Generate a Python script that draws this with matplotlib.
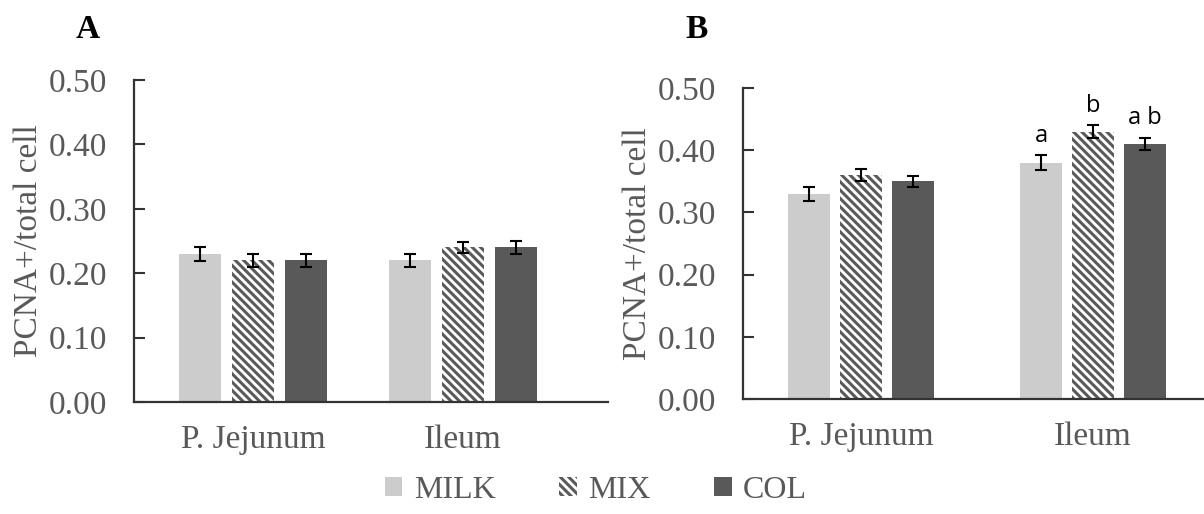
import matplotlib
matplotlib.use("Agg")
import matplotlib.pyplot as plt
import numpy as np
from matplotlib.patches import Patch

categories = ["P. Jejunum", "Ileum"]
series = ["MILK", "MIX", "COL"]
a_vals = {"MILK": [0.23, 0.22], "MIX": [0.22, 0.24], "COL": [0.22, 0.24]}
a_errs = {"MILK": [0.011, 0.010], "MIX": [0.010, 0.009], "COL": [0.010, 0.010]}
b_vals = {"MILK": [0.33, 0.38], "MIX": [0.36, 0.43], "COL": [0.35, 0.41]}
b_errs = {"MILK": [0.011, 0.012], "MIX": [0.009, 0.010], "COL": [0.009, 0.010]}
b_letters = {"MILK": ["", "a"], "MIX": ["", "b"], "COL": ["", "a b"]}
yticks = [0.0, 0.1, 0.2, 0.3, 0.4, 0.5]

colors = {"MILK": "#cccccc", "MIX": "white", "COL": "#595959"}
hatches = {"MILK": None, "MIX": "\\\\\\\\", "COL": None}
text_grey = "#595959"
serif = ["Liberation Serif", "DejaVu Serif"]
FS = 24

plt.rcParams["hatch.linewidth"] = 2.2

fig = plt.figure(figsize=(12.04, 5.14), dpi=100)

def draw(ax, vals, errs, step_frac, xlim, letters=None):
    x = np.arange(len(categories))
    w = step_frac * 0.8
    for i, s in enumerate(series):
        pos = x + (i - 1) * step_frac
        ax.bar(pos, vals[s], width=w, color=colors[s],
               hatch=hatches[s], edgecolor="#5a5a5a" if hatches[s] else colors[s],
               linewidth=0, zorder=2)
        ax.errorbar(pos, vals[s], yerr=errs[s], fmt="none", ecolor="black",
                    elinewidth=1.5, capsize=4, capthick=1.5, zorder=3)
        if letters:
            for j, t in enumerate(letters[s]):
                if t:
                    ax.text(pos[j], vals[s][j] + errs[s][j] + 0.012, t,
                            ha="center", va="bottom", fontsize=17,
                            family=["Open Sans", "DejaVu Sans"], color="black")
    ax.set_ylim(0, 0.5)
    ax.set_xlim(*xlim)
    ax.set_yticks(yticks)
    ax.set_yticklabels([f"{v:.2f}" for v in yticks], family=serif,
                       fontsize=FS, color=text_grey)
    ax.set_xticks(x)
    ax.set_xticklabels(categories, family=serif, fontsize=FS, color=text_grey)
    ax.tick_params(axis="y", direction="in", length=8, width=1.5, color="#333333", pad=19)
    ax.tick_params(axis="x", length=0, pad=16)
    for sp in ["top", "right"]:
        ax.spines[sp].set_visible(False)
    for sp in ["left", "bottom"]:
        ax.spines[sp].set_linewidth(1.6)
        ax.spines[sp].set_color("#333333")
    ax.set_ylabel("PCNA+/total cell", family=serif, fontsize=FS,
                  color=text_grey, labelpad=4)

# Panel A: group centers 253 and 463 px, axis 134..608
axA = fig.add_axes([134 / 1204, 1 - 402 / 514, (608 - 134) / 1204, (402 - 80) / 514])
stepA = 53 / 210
draw(axA, a_vals, a_errs, stepA, ((134 - 253) / 210, (608 - 253) / 210))

# Panel B: group centers 861 and 1093 px, axis 743..1204
axB = fig.add_axes([743 / 1204, 1 - 399 / 514, (1204 - 743) / 1204, (399 - 88) / 514])
stepB = 52 / 232
draw(axB, b_vals, b_errs, stepB, ((743 - 861) / 232, (1204 - 861) / 232), b_letters)

fig.text(88 / 1204, 1 - 30 / 514, "A", family=serif, fontsize=24,
         fontweight="bold", ha="center", va="center")
fig.text(697 / 1204, 1 - 30 / 514, "B", family=serif, fontsize=24,
         fontweight="bold", ha="center", va="center")

handles = [Patch(facecolor=colors[s], hatch=hatches[s],
                 edgecolor="#5a5a5a" if hatches[s] else colors[s], linewidth=0)
           for s in series]
leg = fig.legend(handles, series, loc="center", bbox_to_anchor=(596 / 1204, 1 - 490 / 514),
                 ncol=3, frameon=False, prop={"family": serif, "size": 23},
                 handlelength=0.55, handleheight=0.55, handletextpad=0.35,
                 columnspacing=2.0, borderaxespad=0)
for t in leg.get_texts():
    t.set_color(text_grey)

fig.savefig("out.png", dpi=100)
